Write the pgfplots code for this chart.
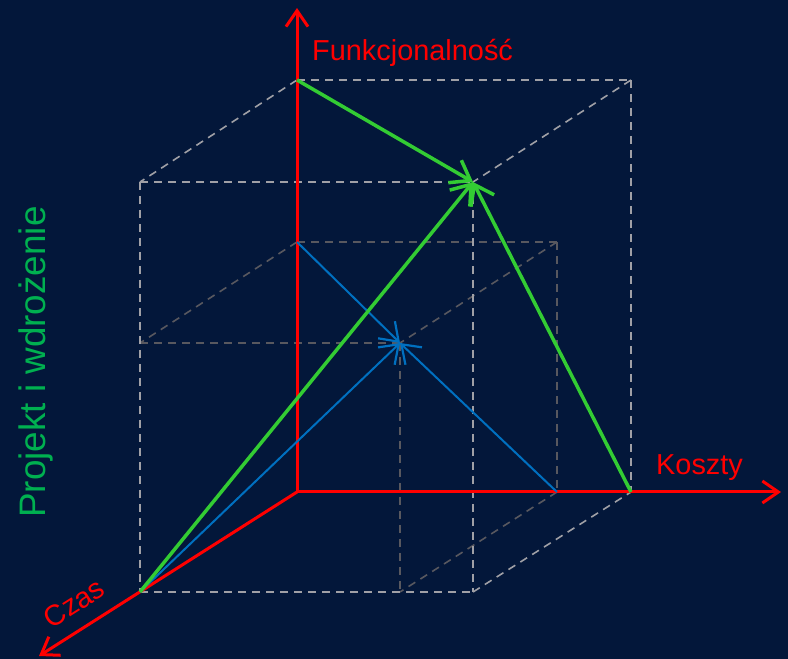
\documentclass[border=0pt]{standalone}
\usepackage{fontspec}
\setmainfont{Liberation Sans}
\usepackage{pgfplots}
\pgfplotsset{compat=1.18}
\usetikzlibrary{arrows.meta}
\definecolor{bg}{RGB}{3,23,58}
\definecolor{axred}{RGB}{255,0,0}
\definecolor{lime}{RGB}{51,204,51}
\definecolor{vblue}{RGB}{0,112,192}
\definecolor{pgreen}{RGB}{0,176,80}
\definecolor{gridA}{RGB}{160,160,166}
\definecolor{gridB}{RGB}{88,88,95}
\begin{document}
\begin{tikzpicture}
\begin{axis}[
  width=788bp, height=659bp, scale only axis,
  xmin=0, xmax=788, ymin=0, ymax=659,
  hide axis, clip=false,
  every axis plot/.append style={mark=none},
  outer/.style={gridA, line width=1.6bp, dash pattern=on 8bp off 6bp},
  inner/.style={gridB, line width=1.6bp, dash pattern=on 8bp off 6bp},
]
\fill[bg] (axis cs:0,0) rectangle (axis cs:788,659);
\coordinate (bl) at (axis cs:0,0);
\coordinate (tr) at (axis cs:788,659);
% inner cube (dark grey)
\addplot[inner] coordinates {(297,417) (557,417)};
\addplot[inner] coordinates {(557,417) (557,167)};
\addplot[inner] coordinates {(297,417) (140,316)};
\addplot[inner] coordinates {(140,316) (400,316)};
\addplot[inner] coordinates {(557,417) (400,316)};
\addplot[inner] coordinates {(400,316) (400,67)};
\addplot[inner] coordinates {(557,167) (400,67)};
% outer cube (light grey)
\addplot[outer] coordinates {(297,579) (631,579)};
\addplot[outer] coordinates {(631,579) (631,167)};
\addplot[outer] coordinates {(297,579) (140,477)};
\addplot[outer] coordinates {(631,579) (473,477)};
\addplot[outer] coordinates {(140,477) (473,477)};
\addplot[outer] coordinates {(140,477) (140,67)};
\addplot[outer] coordinates {(473,477) (473,67)};
\addplot[outer] coordinates {(140,67) (473,67)};
\addplot[outer] coordinates {(473,67) (631,167)};
% red axes
\addplot[axred, line width=3bp, -{Straight Barb[length=16bp,width=22bp,line width=3bp]}] coordinates {(297,167) (297,651)};
\addplot[axred, line width=3bp, -{Straight Barb[length=16bp,width=22bp,line width=3bp]}] coordinates {(297,167) (781,167)};
\addplot[axred, line width=3bp, -{Straight Barb[length=16bp,width=22bp,line width=3bp]}] coordinates {(297,167) (39,3)};
% blue arrows
\addplot[vblue, line width=2bp, -{Straight Barb[length=17bp,width=24bp,line width=2.2bp]}] coordinates {(297,417) (400,316)};
\addplot[vblue, line width=2bp, -{Straight Barb[length=17bp,width=24bp,line width=2.2bp]}] coordinates {(140,67) (400,316)};
\addplot[vblue, line width=2bp, -{Straight Barb[length=17bp,width=24bp,line width=2.2bp]}] coordinates {(557,167) (400,316)};
% green arrows
\addplot[lime, line width=3.5bp, -{Straight Barb[length=18bp,width=26bp,line width=3.5bp]}] coordinates {(297,579) (473,477)};
\addplot[lime, line width=3.5bp, -{Straight Barb[length=18bp,width=26bp,line width=3.5bp]}] coordinates {(140,67) (473,477)};
\addplot[lime, line width=3.5bp, -{Straight Barb[length=18bp,width=26bp,line width=3.5bp]}] coordinates {(631,167) (473,477)};
% labels
\node[anchor=base west, inner sep=0, text=axred, font=\fontsize{29}{34}\selectfont] at (axis cs:312,598) {Funkcjonalność};
\node[anchor=base west, inner sep=0, text=axred, font=\fontsize{29}{34}\selectfont] at (axis cs:656,184) {Koszty};
\node[anchor=center, inner sep=0, text=axred, rotate=32.5, font=\fontsize{29}{34}\selectfont] at (axis cs:74,56) {Czas};
\node[anchor=base west, inner sep=0, text=pgreen, rotate=90, font=\fontsize{37}{42}\selectfont] at (axis cs:45,141) {Projekt i wdrożenie};
\end{axis}
\pgfresetboundingbox
\path[use as bounding box] (bl) rectangle (tr);
\end{tikzpicture}
\end{document}
